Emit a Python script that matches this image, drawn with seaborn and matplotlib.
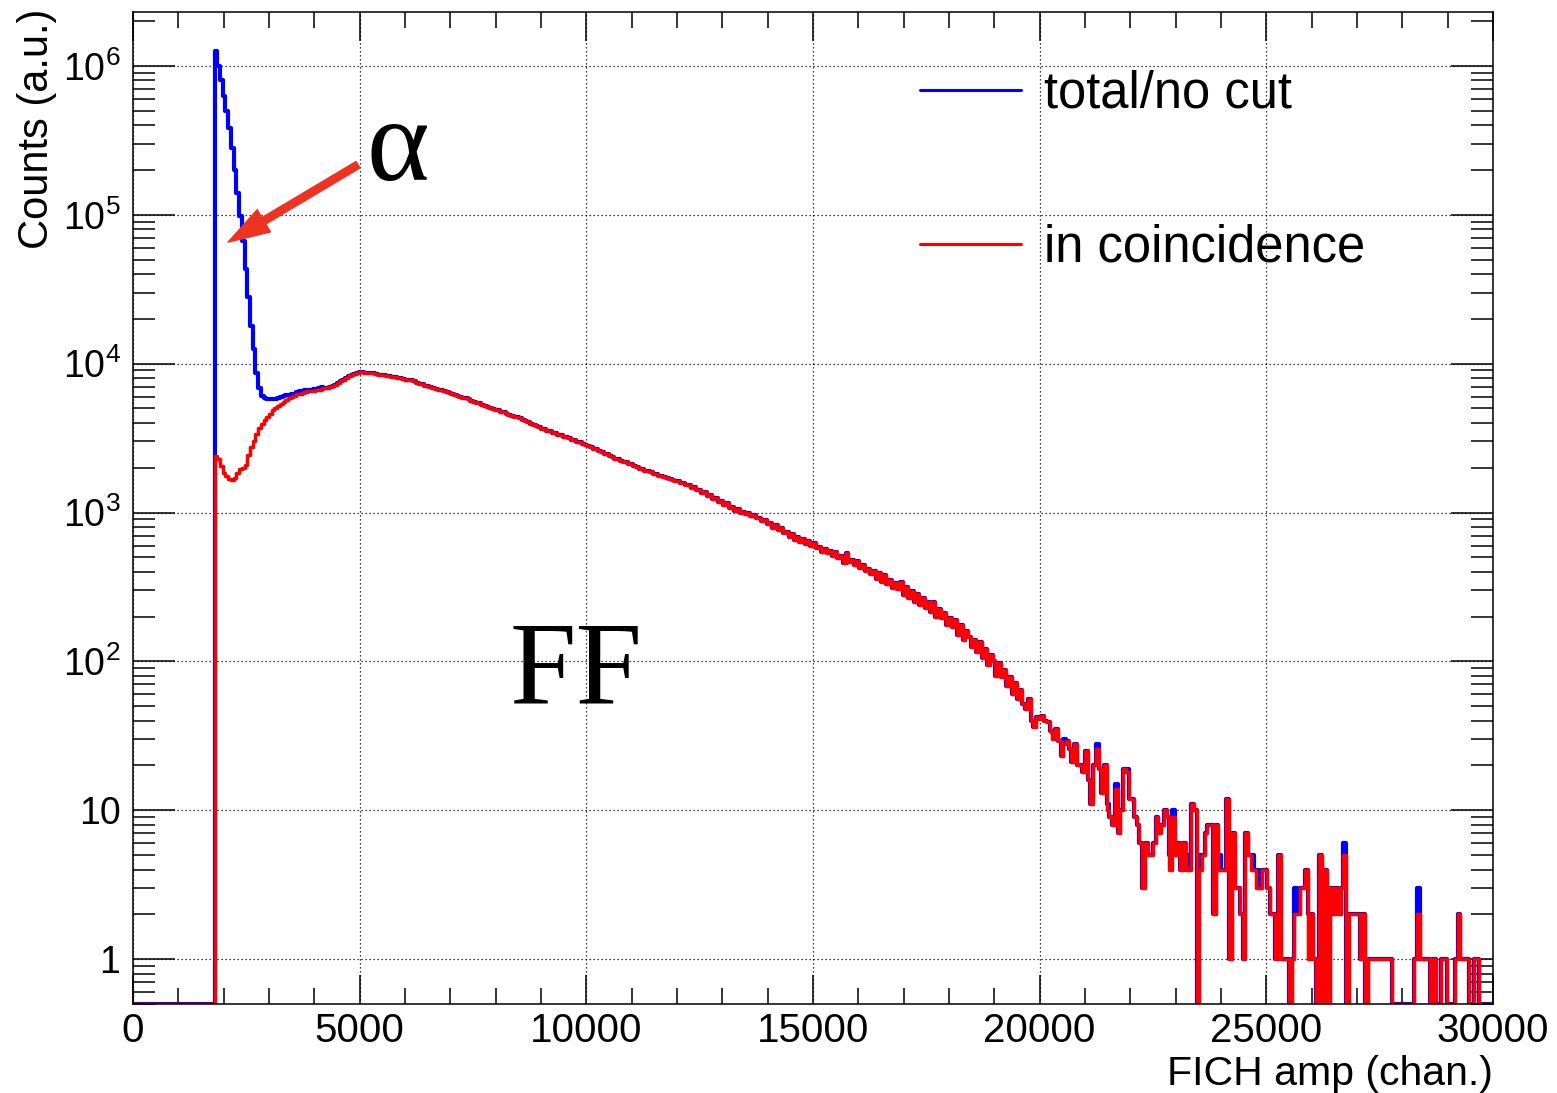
import numpy as np
import pandas as pd
import matplotlib
matplotlib.use("Agg")
import matplotlib.pyplot as plt
import seaborn as sns
from matplotlib.lines import Line2D
from matplotlib.ticker import MultipleLocator, LogLocator, NullFormatter, FuncFormatter

# FICH amplitude spectrum, 60-channel bins from 0 to 30000
bin_width = 60
amp_min, amp_max = 0, 30000
below_threshold = [0] * 30  # 0 - 1740: nothing recorded

# 1800 - 4140: alpha region, total and coincidence differ strongly
alpha_total = [
    1260000, 1000000, 800000, 630000, 500000, 380000, 280000, 200000, 140000, 98000,
    67000, 43000, 28000, 18000, 12600, 8700, 6900, 6100, 5900, 5800,
    5750, 5750, 5800, 5900, 6000, 6050, 6150, 6200, 6250, 6300,
    6450, 6500, 6550, 6600, 6650, 6700, 6750, 6800, 6850, 6950,
]
alpha_coinc = [
    2400, 2300, 2050, 1850, 1750, 1680, 1650, 1700, 1850, 1950,
    2000, 2100, 2450, 2750, 3000, 3350, 3700, 3950, 4150, 4400,
    4600, 4850, 5050, 5200, 5350, 5500, 5700, 5850, 5950, 6100,
    6250, 6300, 6350, 6450, 6500, 6550, 6550, 6650, 6700, 6800,
]

# 4200 - 19740: fission fragment bump, both spectra lie on top of each other
ff_counts = [
    6850, 6900, 6950, 7050, 7200, 7400, 7600, 7800, 8000, 8200,
    8350, 8500, 8650, 8800, 8750, 8700, 8650, 8650, 8600, 8550,
    8450, 8400, 8350, 8300, 8200, 8150, 8100, 8050, 7950, 7850,
    7800, 7750, 7720, 7650, 7450, 7320, 7250, 7120, 7050, 6950,
    6850, 6800, 6700, 6600, 6550, 6450, 6350, 6300, 6200, 6100,
    6000, 5900, 5850, 5750, 5650, 5550, 5450, 5400, 5300, 5200,
    5100, 5050, 4950, 4900, 4850, 4750, 4700, 4600, 4550, 4450,
    4400, 4350, 4300, 4200, 4100, 4050, 3950, 3900, 3800, 3750,
    3650, 3620, 3540, 3510, 3440, 3410, 3340, 3310, 3240, 3210,
    3160, 3090, 3060, 2990, 2960, 2880, 2860, 2790, 2760, 2690,
    2660, 2590, 2560, 2490, 2460, 2390, 2360, 2300, 2290, 2230,
    2200, 2180, 2130, 2110, 2050, 2030, 1970, 1960, 1900, 1890,
    1860, 1820, 1810, 1770, 1760, 1720, 1710, 1670, 1660, 1620,
    1630, 1570, 1590, 1520, 1530, 1460, 1490, 1410, 1420, 1360,
    1370, 1300, 1320, 1240, 1260, 1180, 1200, 1120, 1150, 1070,
    1090, 1030, 1060, 1000, 1015, 975, 990, 945, 965, 920,
    920, 880, 890, 835, 850, 790, 820, 760, 785, 725,
    745, 690, 715, 655, 690, 630, 665, 610, 640, 595,
    620, 575, 590, 545, 570, 535, 555, 510, 540, 495,
    510, 460, 535, 465, 480, 445, 470, 425, 445, 405,
    420, 385, 405, 360, 395, 340, 380, 330, 350, 310,
    335, 305, 340, 280, 315, 265, 295, 250, 285, 240,
    265, 230, 250, 215, 250, 200, 225, 195, 210, 175,
    195, 170, 190, 150, 175, 140, 160, 145, 125, 140,
    115, 135, 105, 122, 95, 110, 100, 80, 98, 78,
    88, 68, 78, 60, 72, 56, 64, 52, 48, 56,
]

# 19800 - 29940: high amplitude tail, coincidence spectrum
tail_coinc = [
    40, 36, 42, 41, 43, 40, 39, 34, 30, 35,
    29, 23, 28, 29, 26, 21, 28, 20, 20, 18,
    25, 16, 11, 20, 26, 19, 13, 20, 10, 9,
    8, 14, 7, 10, 19, 18, 12, 12, 9, 8,
    6, 3, 6, 5, 5, 6, 9, 7, 8, 10,
    9, 4, 9, 5, 6, 4, 6, 4, 4, 11,
    10, 0, 4, 5, 7, 8, 8, 2, 8, 4,
    4, 4, 12, 1, 7, 3, 3, 2, 1, 7,
    5, 4, 4, 3, 3, 4, 4, 3, 2, 2,
    1, 5, 1, 1, 1, 0, 1, 2, 2, 3,
    3, 4, 1, 2, 1, 0, 5, 0, 4, 0,
    3, 2, 3, 2, 3, 5, 0, 2, 2, 2,
    2, 1, 2, 0, 1, 1, 1, 1, 1, 1,
    1, 1, 1, 0, 0, 0, 0, 0, 0, 0,
    0, 1, 2, 1, 1, 1, 1, 0, 1, 0,
    0, 1, 1, 0, 0, 0, 1, 2, 1, 1,
    1, 0, 0, 1, 1, 0, 0, 0, 0, 0,
]
# tail bins where the total spectrum sits above the coincidence one (channel: counts)
tail_total_extra = {
    20280: 33, 20520: 30, 21240: 28, 21480: 11, 21660: 15, 21900: 19,
    22620: 8, 22860: 5, 22920: 10, 23280: 5, 23520: 5, 23940: 5,
    24660: 5, 24780: 4, 25620: 3, 25920: 2, 26700: 6, 28320: 3,
}
tail_start = 19800

y_min, y_max = 0.5, 2.3e6

n_bins = (amp_max - amp_min) // bin_width
centers = amp_min + bin_width * (np.arange(n_bins) + 0.5)

tail_total = list(tail_coinc)
for ch, n in tail_total_extra.items():
    tail_total[(ch - tail_start) // bin_width] = n

total = np.array(below_threshold + alpha_total + ff_counts + tail_total, dtype=float)
coinc = np.array(below_threshold + alpha_coinc + ff_counts + tail_coinc, dtype=float)

df = pd.DataFrame({
    "amp": np.tile(centers, 2),
    "counts": np.concatenate([total, coinc]),
    "cut": ["total/no cut"] * n_bins + ["in coincidence"] * n_bins,
})
# empty bins are drawn on the lower frame edge, like ROOT does
df["drawn"] = df["counts"].clip(lower=y_min)

sns.set_style("ticks")
plt.rcParams["font.family"] = ["Liberation Sans", "DejaVu Sans"]
plt.rcParams["mathtext.default"] = "regular"
plt.rcParams["text.color"] = "black"
plt.rcParams["axes.labelcolor"] = "black"
plt.rcParams["xtick.color"] = "black"
plt.rcParams["ytick.color"] = "black"

fig = plt.figure(figsize=(15.57, 10.93), dpi=100)
ax = fig.add_axes([133 / 1557, 1 - 1004 / 1093, 1360 / 1557, 992 / 1093])

colors = {"total/no cut": "#0000ff", "in coincidence": "#ff0000"}
widths = {"total/no cut": 3.0, "in coincidence": 2.5}
for name in ["total/no cut", "in coincidence"]:
    sns.histplot(data=df[df["cut"] == name], x="amp", weights="drawn",
                 bins=n_bins, binrange=(amp_min, amp_max),
                 element="step", fill=False, color=colors[name],
                 linewidth=widths[name], ax=ax)

ax.set_yscale("log")
ax.set_xlim(amp_min, amp_max)
ax.set_ylim(y_min, y_max)

ax.xaxis.set_major_locator(MultipleLocator(5000))
ax.xaxis.set_minor_locator(MultipleLocator(1000))
ax.yaxis.set_major_locator(LogLocator(base=10, numticks=20))
ax.yaxis.set_minor_locator(LogLocator(base=10, subs=np.arange(2, 10), numticks=20))
ax.yaxis.set_minor_formatter(NullFormatter())


def root_log_label(v, pos):
    if v < 0.99:
        return ""
    e = int(round(np.log10(v)))
    if e == 0:
        return "1"
    if e == 1:
        return "10"
    return "$10^{%d}$" % e


ax.yaxis.set_major_formatter(FuncFormatter(root_log_label))
ax.tick_params(axis="both", which="both", direction="in", top=True, right=True,
               color="black", labelcolor="black", width=1.1)
ax.tick_params(axis="x", which="major", length=21, labelsize=29, pad=6)
ax.tick_params(axis="x", which="minor", length=11.5)
ax.tick_params(axis="y", which="major", length=30, labelsize=27, pad=9)
ax.tick_params(axis="y", which="minor", length=16)
for s in ax.spines.values():
    s.set_linewidth(1.1)
    s.set_color("black")

ax.grid(True, which="major", color="black", linestyle=(0, (1, 2.2)), linewidth=0.9)
ax.set_axisbelow(True)

ax.set_xlabel("FICH amp (chan.)", fontsize=29.5, loc="right", color="black")
ax.xaxis.set_label_coords(1.0, -0.051)
ax.xaxis.label.set_va("top")
ax.set_ylabel("Counts (a.u.)", fontsize=30, loc="top", color="black")
ax.yaxis.set_label_coords(-0.056, 1.003)

handles = [Line2D([], [], color=colors[n], lw=2.2) for n in colors]
ax.legend(handles, list(colors), loc="upper left", bbox_to_anchor=(0.5787, 0.942),
          frameon=False, fontsize=36.5, handlelength=2.0, handletextpad=0.44,
          labelspacing=2.08, borderpad=0, borderaxespad=0)

ax.annotate("", xy=(0.0699, 0.768), xytext=(0.1654, 0.846), xycoords="axes fraction",
            arrowprops=dict(arrowstyle="simple,head_length=1.0,head_width=0.62,tail_width=0.18",
                            color="#ee3322", shrinkA=0, shrinkB=0, mutation_scale=30))
ax.text(0.1949, 0.8306, "α", transform=ax.transAxes, fontsize=86, color="black",
        family="Liberation Serif", ha="center", va="baseline")
ax.text(0.2765, 0.3034, "FF", transform=ax.transAxes, fontsize=86, color="black",
        family="Liberation Serif", ha="left", va="baseline")

fig.savefig("out.png", dpi=100)
